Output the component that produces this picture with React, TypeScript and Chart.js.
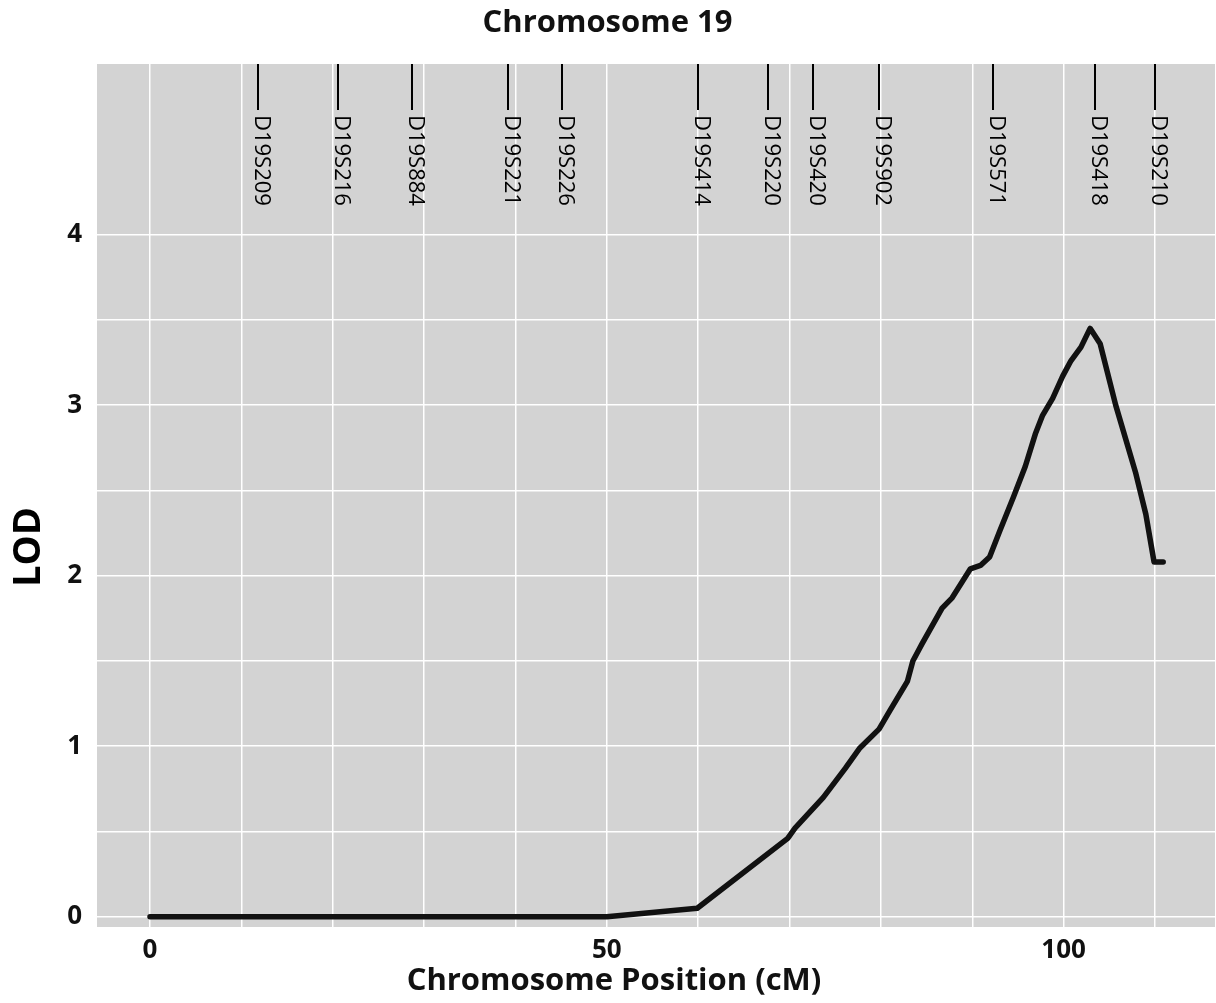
import React, { useEffect, useRef } from 'react';
import { Chart, registerables } from 'chart.js';

Chart.register(...registerables);

// ---- data ----
const positionsCM = [0, 50, 59.9, 69.8, 70.6, 73.7, 76.1, 77.7, 79.8, 81.0, 82.9, 83.5, 84.5, 86.7, 87.8, 89.8, 90.9, 91.9, 93.0, 94.5, 95.8, 96.9, 97.7, 98.8, 99.9, 100.8, 101.9, 102.9, 104.0, 105.7, 107.9, 109.0, 109.9, 110.9];
const lodValues = [0, 0, 0.05, 0.46, 0.52, 0.70, 0.87, 0.99, 1.10, 1.21, 1.38, 1.50, 1.60, 1.81, 1.87, 2.04, 2.06, 2.11, 2.26, 2.46, 2.64, 2.83, 2.94, 3.04, 3.17, 3.26, 3.34, 3.45, 3.36, 3.00, 2.60, 2.36, 2.08, 2.08];
const markerNames = ['D19S209', 'D19S216', 'D19S884', 'D19S221', 'D19S226', 'D19S414', 'D19S220', 'D19S420', 'D19S902', 'D19S571', 'D19S418', 'D19S210'];
const markerPositions = [11.8, 20.6, 28.7, 39.2, 45.1, 60.0, 67.6, 72.6, 79.8, 92.3, 103.4, 110.0];
const xGridValues = [0, 10, 20, 30, 40, 50, 60, 70, 80, 90, 100, 110];
const xLabelValues = [0, 50, 100];
const yGridValues = [0, 0.5, 1, 1.5, 2, 2.5, 3, 3.5, 4];
const yLabelValues = [0, 1, 2, 3, 4];
const chartTitle = 'Chromosome 19';
const xTitle = 'Chromosome Position (cM)';
const yTitle = 'LOD';

const FONT = '"Open Sans", "Noto Sans", sans-serif';

export default function App() {
  const ref = useRef<HTMLCanvasElement | null>(null);

  useEffect(() => {
    if (!ref.current) return;

    const bgPlugin = {
      id: 'plotBg',
      beforeDraw(chart: any) {
        const { ctx, chartArea: a } = chart;
        ctx.save();
        ctx.fillStyle = '#d3d3d3';
        ctx.fillRect(a.left, a.top, a.right - a.left, a.bottom - a.top);
        ctx.restore();
      },
    };

    const markerPlugin = {
      id: 'markers',
      afterDatasetsDraw(chart: any) {
        const { ctx, chartArea: a, scales } = chart;
        ctx.save();
        markerPositions.forEach((pos, i) => {
          const x = Math.round(scales.x.getPixelForValue(pos));
          ctx.strokeStyle = '#000';
          ctx.lineWidth = 2;
          ctx.beginPath();
          ctx.moveTo(x, a.top);
          ctx.lineTo(x, a.top + 46);
          ctx.stroke();
          ctx.save();
          ctx.translate(x + 3, a.top + 51);
          ctx.rotate(Math.PI / 2);
          ctx.fillStyle = '#000';
          ctx.font = `500 22px ${FONT}`;
          ctx.textAlign = 'left';
          ctx.textBaseline = 'middle';
          ctx.fillText(markerNames[i], 0, 0);
          ctx.restore();
        });
        ctx.restore();
      },
    };

    const axisTitlesPlugin = {
      id: 'axisTitles',
      afterDraw(chart: any) {
        const { ctx } = chart;
        ctx.save();
        ctx.fillStyle = '#111';
        ctx.textAlign = 'center';
        ctx.textBaseline = 'middle';
        ctx.font = `bold 31px ${FONT}`;
        ctx.fillText(xTitle, 614, 981);
        ctx.translate(29, 547);
        ctx.rotate(-Math.PI / 2);
        ctx.fillStyle = '#000';
        ctx.font = `bold 38px ${FONT}`;
        ctx.fillText(yTitle, 0, 0);
        ctx.restore();
      },
    };

    const chart = new Chart(ref.current, {
      type: 'scatter',
      data: {
        datasets: [
          {
            data: positionsCM.map((x, i) => ({ x, y: lodValues[i] })),
            showLine: true,
            borderColor: '#111',
            borderWidth: 5.5,
            pointRadius: 0,
            tension: 0,
            borderCapStyle: 'round',
            borderJoinStyle: 'round',
          } as any,
        ],
      },
      options: {
        animation: false,
        responsive: false,
        devicePixelRatio: 1,
        layout: { padding: { left: 0, right: 1, top: 0, bottom: 0 } },
        plugins: {
          legend: { display: false },
          tooltip: { enabled: false },
          title: {
            display: true,
            text: chartTitle,
            color: '#111',
            font: { family: FONT, size: 31, weight: 'bold', lineHeight: 1.2 },
            padding: { top: 5, bottom: 21.8 },
          },
        },
        scales: {
          x: {
            type: 'linear',
            min: -5.8,
            max: 116.57,
            border: { display: false },
            grid: { color: '#ffffff', lineWidth: 1.5, drawTicks: false },
            afterBuildTicks: (s: any) => {
              s.ticks = xGridValues.map((v) => ({ value: v }));
            },
            afterFit: (s: any) => {
              s.height = 76;
            },
            ticks: {
              autoSkip: false,
              maxRotation: 0,
              padding: 8,
              color: '#111',
              font: { family: FONT, size: 26, weight: 'bold' },
              callback: (v: any) => (xLabelValues.includes(Number(v)) ? String(v) : ''),
            },
          },
          y: {
            type: 'linear',
            min: -0.06,
            max: 5.0,
            border: { display: false },
            grid: { color: '#ffffff', lineWidth: 1.5, drawTicks: false },
            afterBuildTicks: (s: any) => {
              s.ticks = yGridValues.map((v) => ({ value: v }));
            },
            afterFit: (s: any) => {
              s.width = 97;
            },
            ticks: {
              autoSkip: false,
              padding: 15,
              color: '#111',
              font: { family: FONT, size: 26, weight: 'bold' },
              callback: (v: any) => (yLabelValues.includes(Number(v)) ? String(v) : ''),
            },
          },
        },
      },
      plugins: [bgPlugin, markerPlugin, axisTitlesPlugin],
    });

    return () => chart.destroy();
  }, []);

  return (
    <div style={{ position: 'absolute', left: 0, top: 0, width: 1216, height: 1003, background: '#fff' }}>
      <canvas ref={ref} width={1216} height={1003} style={{ display: 'block' }} />
    </div>
  );
}
